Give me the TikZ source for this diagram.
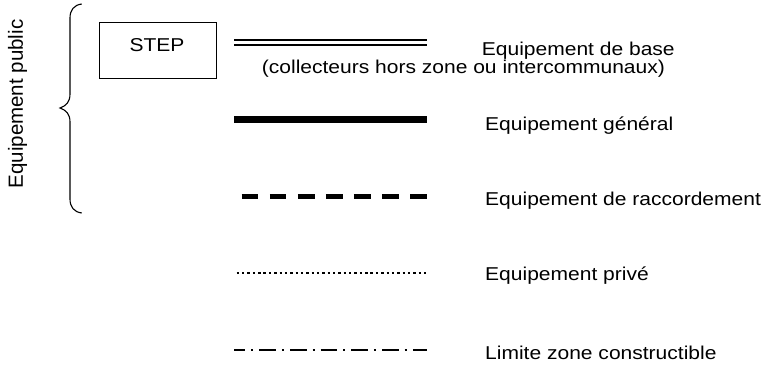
\documentclass[tikz,border=0pt]{standalone}
\usepackage{fontspec}
\setmainfont{Liberation Sans}
\newfontfamily\labfont{Liberation Sans}[FakeStretch=1.13]
\begin{document}
\begin{tikzpicture}[x=1pt,y=-1pt,
  lab/.style={anchor=base west,inner sep=0pt,font=\labfont\fontsize{18.6}{19}\selectfont},
  legline/.style={line cap=butt}]
\useasboundingbox (0,0) rectangle (771,372);
% brace
\draw[line width=1.1pt] (81.7,4) .. controls (74,5) and (70,10) .. (70,18) -- (70,94)
  .. controls (70,102) and (66,106) .. (60,108)
  .. controls (66,110) and (70,114) .. (70,122) -- (70,199)
  .. controls (70,207) and (74,212) .. (81.7,213);
\node[rotate=90,anchor=base,inner sep=0pt,font=\fontsize{20.5}{21}\selectfont] (pub) at (23,104) {Equipement public};
% STEP box
\draw[line width=1pt] (99,22.3) rectangle (216.7,78.3);
\node[lab] (step) at (129.3,51.7) {STEP};
% base (double)
\coordinate (b1) at (234,42.5); \coordinate (b2) at (426.7,42.5);
\draw[legline,line width=6.6pt] (b1) -- (b2);
\draw[legline,line width=2.4pt,white] (b1) -- (b2);
\node[lab] (tb) at (481.7,55) {Equipement de base};
\node[lab] (tb2) at (261.7,73) {(collecteurs hors zone ou intercommunaux)};
% general
\coordinate (g1) at (234,119); \coordinate (g2) at (426.7,119);
\draw[legline,line width=7pt] (g1) -- (g2);
\node[lab] (tg) at (485,130) {Equipement général};
% raccordement
\coordinate (r1) at (241.7,196); \coordinate (r2) at (426.7,196);
\draw[legline,line width=5pt,dash pattern=on 16.7pt off 11.35pt] (r1) -- (r2);
\node[lab] (tr) at (485,205) {Equipement de raccordement};
% prive
\coordinate (p1) at (236.7,272.7); \coordinate (p2) at (426.7,272.7);
\draw[legline,line width=2.4pt,dash pattern=on 2.4pt off 2.95pt] (p1) -- (p2);
\node[lab] (tp) at (485,280) {Equipement privé};
% limite
\coordinate (l1) at (234,350); \coordinate (l2) at (426.7,350);
\draw[legline,line width=2.3pt,dash pattern=on 16.5pt off 6pt on 2pt off 6.2pt,dash phase=5.4pt] (l1) -- (l2);
\node[lab] (tl) at (485,359) {Limite zone constructible};
\end{tikzpicture}
\end{document}
